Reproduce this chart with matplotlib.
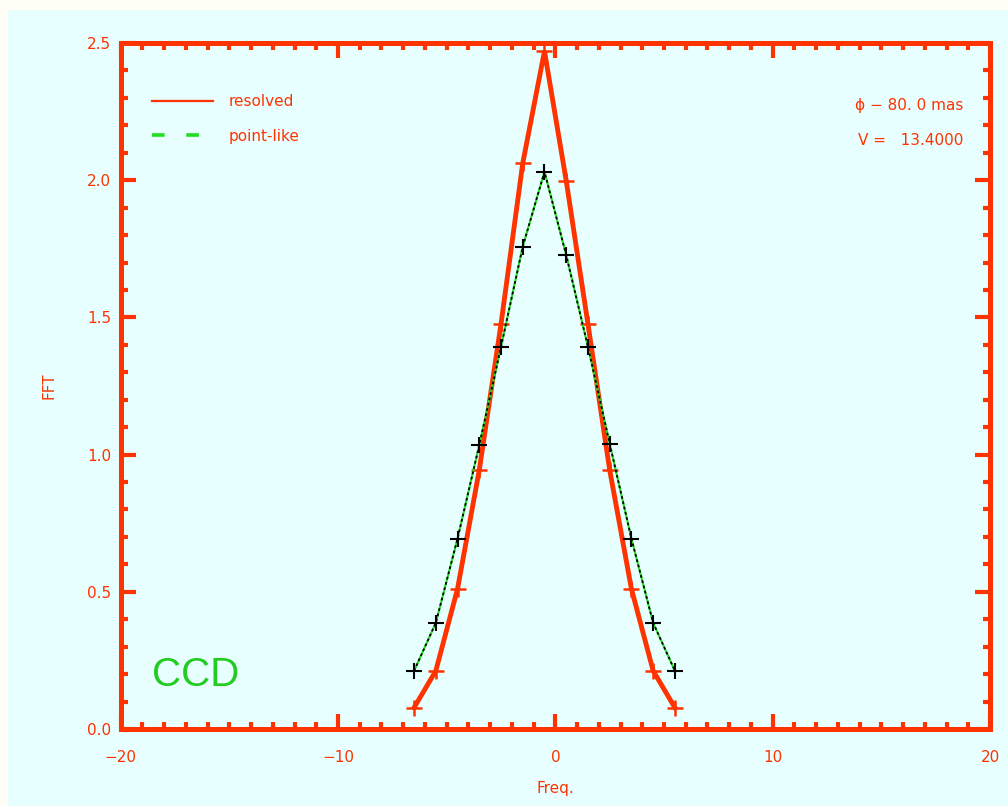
import matplotlib
matplotlib.use("Agg")
import matplotlib.pyplot as plt
from matplotlib.lines import Line2D
from matplotlib.patches import Rectangle
from matplotlib.ticker import MultipleLocator

# Frequency bins and FFT amplitudes
freq = [-6.5, -5.5, -4.5, -3.5, -2.5, -1.5, -0.5, 0.5, 1.5, 2.5, 3.5, 4.5, 5.5]
fft_resolved = [0.078, 0.212, 0.511, 0.944, 1.476, 2.062, 2.47, 1.998, 1.476, 0.944, 0.511, 0.212, 0.078]
fft_pointlike = [0.212, 0.387, 0.694, 1.035, 1.393, 1.758, 2.031, 1.727, 1.393, 1.04, 0.694, 0.387, 0.212]

x_ticks = [-20, -10, 0, 10, 20]
y_ticks = [0.0, 0.5, 1.0, 1.5, 2.0, 2.5]
y_tick_labels = ["0.0", "0.5", "1.0", "1.5", "2.0", "2.5"]

RED = "#ff3300"
GREEN = "#22dd22"
PANEL = "#e8ffff"

fig = plt.figure(figsize=(10.08, 8.06), dpi=100)
fig.patch.set_facecolor("#fffdf6")
panel = Rectangle((8 / 1008, 0), 1 - 8 / 1008, 1 - 10 / 806,
                  transform=fig.transFigure, facecolor=PANEL,
                  edgecolor="none", zorder=-10)
fig.patches.append(panel)

ax = fig.add_axes([120.7 / 1008, 1 - 729 / 806, (990 - 120.7) / 1008, (729 - 43) / 806])
ax.set_zorder(5)
ax.set_facecolor(PANEL)
ax.set_xlim(-20, 20)
ax.set_ylim(0, 2.5)

# resolved source: thick red line with plus markers
ax.plot(freq, fft_resolved, color=RED, lw=3.5, marker="+", ms=11, mew=1.8,
        solid_joinstyle="miter", zorder=3, clip_on=False)

# point-like source: green line with black dots on top
ax.plot(freq, fft_pointlike, color=GREEN, lw=1.5, zorder=4)
ax.plot(freq, fft_pointlike, color="black", lw=1.3, ls=(0, (1.5, 1.5)),
        marker="+", ms=11, mew=1.5, mec="black", zorder=5)

for s in ax.spines.values():
    s.set_color(RED)
    s.set_linewidth(3.6)

ax.set_xticks(x_ticks)
ax.set_yticks(y_ticks)
ax.set_yticklabels(y_tick_labels)
ax.xaxis.set_minor_locator(MultipleLocator(1))
ax.yaxis.set_minor_locator(MultipleLocator(0.1))
ax.tick_params(which="both", direction="in", top=True, right=True,
               color=RED, labelcolor=RED, width=3, labelsize=11)
ax.tick_params(which="major", length=11)
ax.tick_params(which="minor", length=5)
ax.tick_params(axis="x", which="major", pad=15)
ax.tick_params(axis="y", which="major", pad=7)

ax.set_xlabel("Freq.", color=RED, fontsize=11, labelpad=12)
ax.set_ylabel("FFT", color=RED, fontsize=11, labelpad=22)

handles = [
    Line2D([], [], color=RED, lw=1.6),
    Line2D([], [], color=GREEN, lw=2.6, ls=(0, (3.5, 6))),
]
leg = ax.legend(handles, ["resolved", "point-like"], loc="upper left",
                bbox_to_anchor=(0.02, 0.945), frameon=False, fontsize=11,
                handlelength=4.0, handletextpad=1.0, labelspacing=1.25,
                labelcolor=RED)

ax.text(0.969, 0.9096, "ϕ − 80. 0 mas", transform=ax.transAxes, ha="right",
        va="center", color=RED, fontsize=11)
ax.text(0.969, 0.8586, "V =   13.4000", transform=ax.transAxes, ha="right",
        va="center", color=RED, fontsize=11)

ax.text(0.036, 0.078, "CCD", transform=ax.transAxes, ha="left", va="center",
        color="#22cc22", fontsize=29, family="Liberation Sans")

fig.savefig("out.png", dpi=100, facecolor=fig.get_facecolor())
